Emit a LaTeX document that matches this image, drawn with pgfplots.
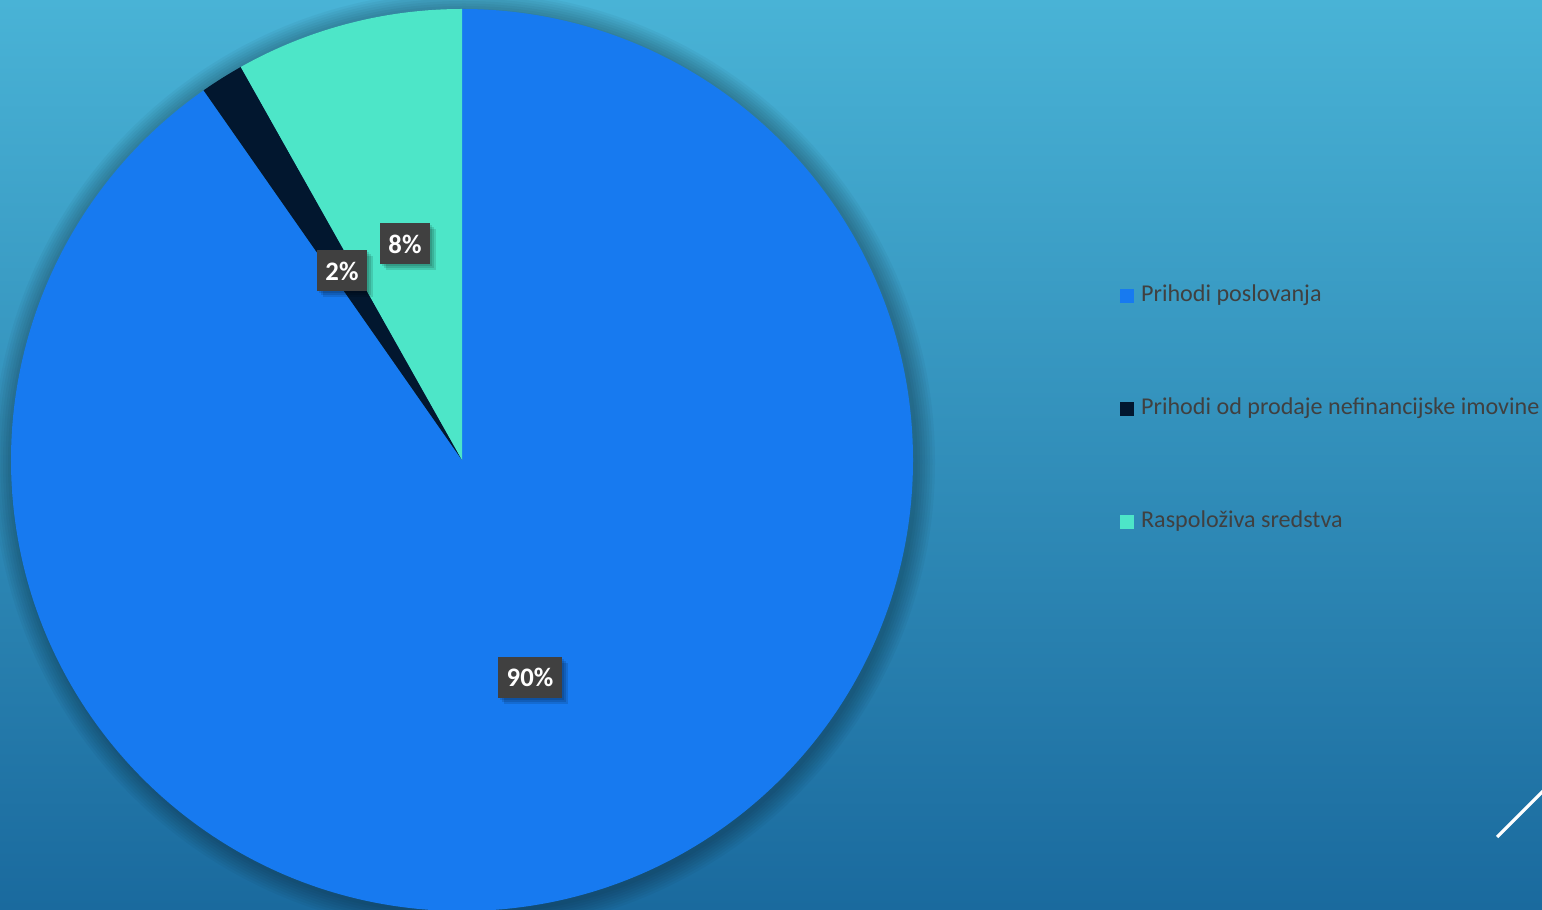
\documentclass[border=0pt]{standalone}
\usepackage{pgfplots}
\pgfplotsset{compat=1.18}
\usepackage{pgfplotstable}
\usepackage{fontspec}
\setmainfont{Carlito}
\definecolor{bgtop}{HTML}{49B3D6}
\definecolor{bgmid}{HTML}{399CC8}
\definecolor{bgbot}{HTML}{1A6A9E}
\definecolor{sliceA}{HTML}{177AF0}
\definecolor{sliceB}{HTML}{02172F}
\definecolor{sliceC}{HTML}{4DE6C8}
\definecolor{lblbox}{HTML}{404040}
\definecolor{legtext}{HTML}{404040}

\pgfplotstableread{
name value
A 90.29
B 1.55
C 8.16
}\piedata

\pgfplotstablegetelem{0}{value}\of\piedata \let\vA\pgfplotsretval
\pgfplotstablegetelem{1}{value}\of\piedata \let\vB\pgfplotsretval
\pgfplotstablegetelem{2}{value}\of\piedata \let\vC\pgfplotsretval
\pgfmathsetmacro\aStart{90}
\pgfmathsetmacro\aAB{90-3.6*\vA}
\pgfmathsetmacro\aBC{\aAB-3.6*\vB}
\pgfmathsetmacro\aEnd{\aBC-3.6*\vC}

\tikzset{lbl/.style={fill=lblbox, text=white, minimum height=0.41cm, inner sep=0pt,
    font=\fontsize{7.6}{9}\selectfont\bfseries},
  lblsh/.style={fill=black, opacity=0.12, minimum height=0.41cm, inner sep=0pt}}

\begin{document}
\begin{tikzpicture}
\path[use as bounding box] (0,0) rectangle (15.42,9.09);
\clip (0,0) rectangle (15.42,9.09);
\shade[top color=bgtop, middle color=bgmid, bottom color=bgbot] (0,0) rectangle (15.42,9.09);
\begin{axis}[
  at={(0,0)}, anchor=south west,
  scale only axis, width=15.42cm, height=9.09cm,
  xmin=0, xmax=1542, ymin=0, ymax=909,
  hide axis, clip=false,
  legend style={at={(axis cs:1119,632)}, anchor=north west, draw=none, fill=none,
    font=\fontsize{6.86}{8.2}\selectfont\color{legtext}, row sep=0.77cm, inner sep=0pt,
    cells={anchor=west}},
  legend cell align=left,
]
% pie shadow
\pgfplotsinvokeforeach{1,...,8}{
  \fill[black, opacity=0.035] (axis cs:464,447) circle[radius={4.51cm+#1*0.025cm}];
}
% slices
\fill[sliceA] (axis cs:462,449) -- ([shift={(\aStart:4.51cm)}]axis cs:462,449)
  arc[start angle=\aStart, end angle=\aAB, radius=4.51cm] -- cycle;
\fill[sliceB] (axis cs:462,449) -- ([shift={(\aAB:4.51cm)}]axis cs:462,449)
  arc[start angle=\aAB, end angle=\aBC, radius=4.51cm] -- cycle;
\fill[sliceC] (axis cs:462,449) -- ([shift={(\aBC:4.51cm)}]axis cs:462,449)
  arc[start angle=\aBC, end angle=\aEnd, radius=4.51cm] -- cycle;
% data labels (soft shadows)
\pgfplotsinvokeforeach{2,4,6}{
\node[lblsh, minimum width=0.50cm] at (axis cs:405+#1,665-#1) {};
\node[lblsh, minimum width=0.50cm] at (axis cs:342+#1,638-#1) {};
\node[lblsh, minimum width=0.64cm] at (axis cs:530+#1,232-#1) {};
}
\node[lbl, minimum width=0.50cm] at (axis cs:405,665) {8\%};
\node[lbl, minimum width=0.50cm] at (axis cs:342,638) {2\%};
\node[lbl, minimum width=0.64cm] at (axis cs:530,232) {90\%};
% decorative line
\draw[white, line width=0.9pt] (axis cs:1497,72) -- (axis cs:1560,135);
% legend
\addlegendimage{legend image code/.code={\fill[sliceA] (0cm,-0.065cm) rectangle (0.13cm,0.065cm);}}
\addlegendentry{Prihodi poslovanja}
\addlegendimage{legend image code/.code={\fill[sliceB] (0cm,-0.065cm) rectangle (0.13cm,0.065cm);}}
\addlegendentry{Prihodi od prodaje nefinancijske imovine}
\addlegendimage{legend image code/.code={\fill[sliceC] (0cm,-0.065cm) rectangle (0.13cm,0.065cm);}}
\addlegendentry{Raspoloživa sredstva}
\end{axis}
\end{tikzpicture}
\end{document}
